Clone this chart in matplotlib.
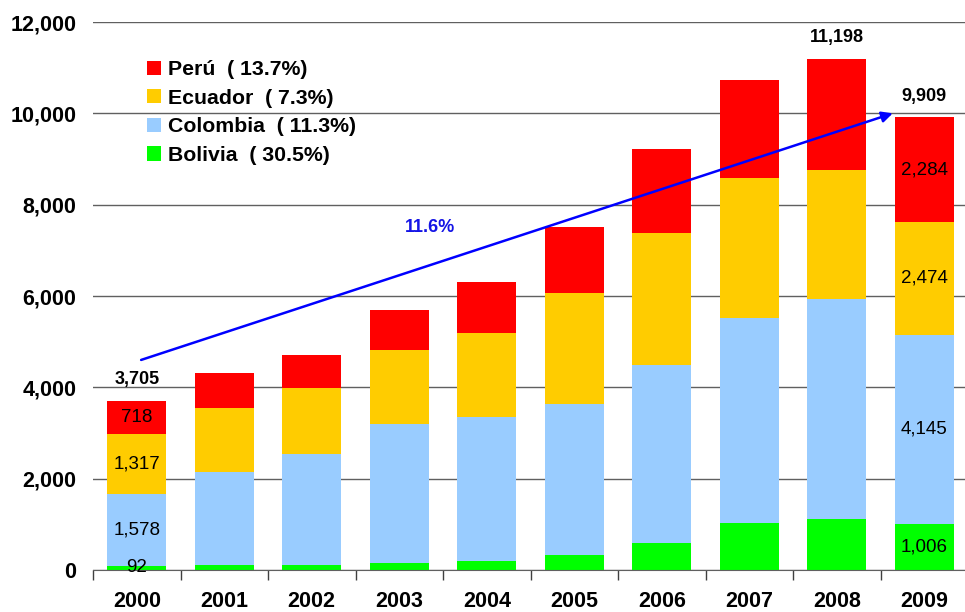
import numpy as np
import matplotlib
matplotlib.use("Agg")
import matplotlib.pyplot as plt
from matplotlib.ticker import FuncFormatter, MultipleLocator

plt.rcParams["font.family"] = ["Liberation Sans", "DejaVu Sans"]

years = ["2000", "2001", "2002", "2003", "2004", "2005", "2006", "2007", "2008", "2009"]
bolivia = [92, 110, 100, 150, 197, 328, 591, 1029, 1117, 1006]
colombia = [1578, 2036, 2440, 3047, 3153, 3307, 3898, 4489, 4817, 4145]
ecuador = [1317, 1401, 1445, 1620, 1840, 2430, 2890, 3065, 2825, 2474]
peru = [718, 767, 723, 876, 1116, 1445, 1839, 2146, 2439, 2284]

series_names = ["Bolivia", "Colombia", "Ecuador", "Perú"]
growth = ["30.5%", "11.3%", "7.3%", "13.7%"]
colors = ["#00FF00", "#99CCFF", "#FFCC00", "#FF0000"]
total_labels = {0: "3,705", 8: "11,198", 9: "9,909"}
cagr_label = "11.6%"

fig = plt.figure(figsize=(9.65, 6.12), dpi=100)
ax = fig.add_axes([93 / 965, 42 / 612, 875 / 965, 548 / 612])

x = np.arange(len(years))
data = [bolivia, colombia, ecuador, peru]
bottom = np.zeros(len(years))
handles = []
for vals, name, g, c in zip(data, series_names, growth, colors):
    vals = np.array(vals, dtype=float)
    h = ax.bar(x, vals, bottom=bottom, width=0.675, color=c, zorder=3,
               label="{}  ( {})".format(name, g))
    handles.append(h)
    for i in (0, 9):
        ax.text(x[i], bottom[i] + vals[i] / 2, "{:,.0f}".format(vals[i]),
                ha="center", va="center", fontsize=13.5, zorder=5)
    bottom += vals

totals = bottom
for i, lab in total_labels.items():
    ax.annotate(lab, (x[i], totals[i]), xytext=(0, 9), textcoords="offset points",
                ha="center", va="bottom", fontsize=13, fontweight="bold")

# growth arrow
ax.annotate("", xy=(8.64, 10000), xytext=(0.05, 4600),
            arrowprops=dict(arrowstyle="-|>", color="#0000FF", lw=1.8,
                            mutation_scale=16, shrinkA=0, shrinkB=0), zorder=6)
ax.text(3.35, 7500, cagr_label, color="#1414E6", fontsize=13, fontweight="bold",
        ha="center", va="center")

ax.set_xlim(-0.5, len(years) - 0.5)
ax.set_ylim(0, 12000)
ax.yaxis.set_major_locator(MultipleLocator(2000))
ax.yaxis.set_major_formatter(FuncFormatter(lambda v, p: "{:,.0f}".format(v)))
ax.grid(axis="y", color="#606060", lw=1, zorder=0)
ax.tick_params(axis="y", length=0, pad=12, labelsize=15.5)
for t in ax.get_yticklabels():
    t.set_fontweight("bold")

ax.set_xticks(x)
ax.set_xticklabels(years, fontsize=15.5, fontweight="bold")
ax.set_xticks(np.arange(-0.5, len(years), 1.0), minor=True)
ax.tick_params(axis="x", which="major", length=0, pad=15)
ax.tick_params(axis="x", which="minor", length=7, color="#404040", width=1)

for s in ("left", "right", "top"):
    ax.spines[s].set_visible(False)
ax.spines["bottom"].set_color("#606060")
ax.spines["bottom"].set_zorder(4)

leg = ax.legend(handles[::-1], [h.get_label() for h in handles[::-1]],
                loc="upper left", bbox_to_anchor=(0.04, 0.965), frameon=False,
                prop={"size": 15.3, "weight": "bold"}, handlelength=0.65,
                handleheight=0.65, handletextpad=0.35, labelspacing=0.45)

fig.savefig("out.png", dpi=100)
